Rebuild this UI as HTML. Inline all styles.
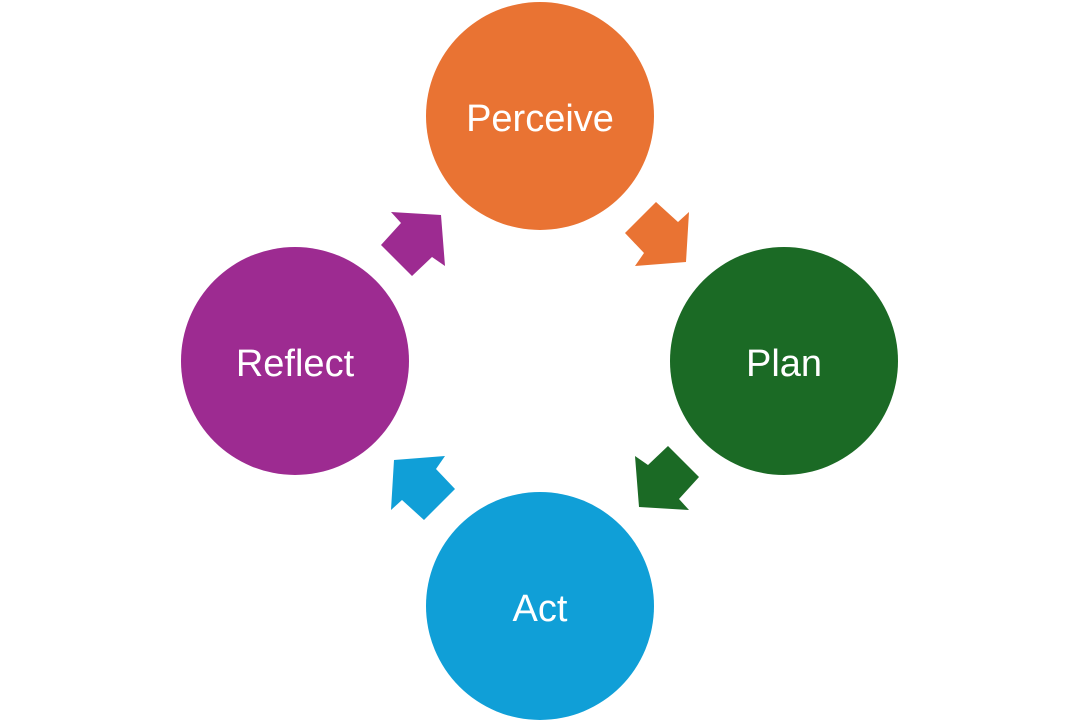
<!DOCTYPE html>
<html><head><style>
html,body{margin:0;padding:0;background:#fff;}
svg{display:block}
text{font-family:"Liberation Sans",Arial,sans-serif;font-size:38px;fill:#fff;text-anchor:middle}
</style></head><body>
<svg width="1080" height="724" viewBox="0 0 1080 724">
<circle cx="540" cy="116" r="114" fill="#E97333"/>
<circle cx="784" cy="361" r="114" fill="#1B6A25"/>
<circle cx="540" cy="606" r="114" fill="#109FD7"/>
<circle cx="295" cy="361" r="114" fill="#9D2B91"/>
<text x="540" y="131">Perceive</text>
<text x="784" y="376">Plan</text>
<text x="540" y="621">Act</text>
<text x="295" y="376">Reflect</text>
<g>
<polygon points="656,202 678,222 689,212 686,262 635,266 644,253 625,233" fill="#E97333"/>
<polygon points="656,202 678,222 689,212 686,262 635,266 644,253 625,233" fill="#1B6A25" transform="rotate(90 540 361)"/>
<polygon points="656,202 678,222 689,212 686,262 635,266 644,253 625,233" fill="#109FD7" transform="rotate(180 540 361)"/>
<polygon points="656,202 678,222 689,212 686,262 635,266 644,253 625,233" fill="#9D2B91" transform="rotate(270 540 361)"/>
</g>
</svg>
</body></html>
